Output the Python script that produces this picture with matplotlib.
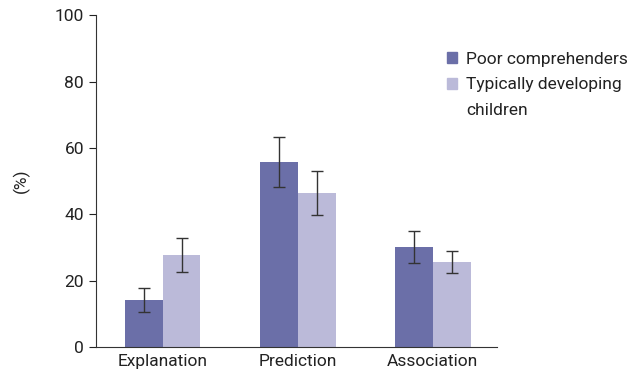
import matplotlib.pyplot as plt
import numpy as np
from matplotlib.patches import Patch

plt.rcParams['font.family'] = ['Roboto', 'DejaVu Sans']

categories = ['Explanation', 'Prediction', 'Association']
poor = [14.2, 55.7, 30.1]
poor_err = [3.6, 7.5, 4.9]
typical = [27.7, 46.4, 25.6]
typical_err = [5.0, 6.7, 3.4]

c_poor = '#6b6fa8'
c_typ = '#bbbad9'

fig = plt.figure(figsize=(6.38, 3.8), dpi=100)
ax = fig.add_axes([0.15, 0.087, 0.629, 0.873])

x = np.arange(len(categories))
w = 0.28
ekw = dict(ecolor='#333333', elinewidth=1, capsize=4, capthick=1)
ax.bar(x - w / 2, poor, w, yerr=poor_err, color=c_poor, error_kw=ekw)
ax.bar(x + w / 2, typical, w, yerr=typical_err, color=c_typ, error_kw=ekw)

ax.set_xlim(-0.496, 2.476)
ax.set_ylim(0, 100)
ax.set_yticks(range(0, 101, 20))
ax.set_xticks(x)
ax.set_xticklabels(categories)
ax.set_ylabel('(%)', fontsize=12.5, labelpad=18, color='#222222')

for s in ['top', 'right']:
    ax.spines[s].set_visible(False)
for s in ['left', 'bottom']:
    ax.spines[s].set_color('#333333')
ax.tick_params(axis='y', direction='out', length=5, labelsize=12.5, colors='#222222')
ax.tick_params(axis='x', length=0, labelsize=12.5, colors='#222222', pad=5)

# second label wraps onto a line with no handle, like the original
handles = [Patch(color=c_poor), Patch(color=c_typ), Patch(color='none')]
labels = ['Poor comprehenders', 'Typically developing', 'children']
leg = ax.legend(handles, labels, loc='upper left', bbox_to_anchor=(0.676, 0.905),
                bbox_transform=fig.transFigure, frameon=False, fontsize=12.5,
                handlelength=0.6, handleheight=0.6, handletextpad=0.5,
                labelspacing=0.62)
for t in leg.get_texts():
    t.set_color('#222222')

fig.savefig('out.png', dpi=100)
